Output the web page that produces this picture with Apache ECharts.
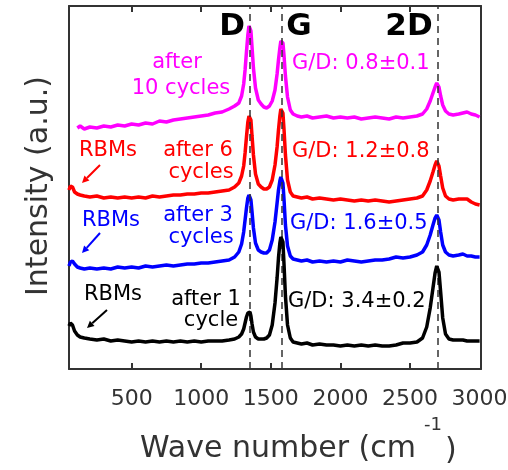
<!DOCTYPE html>
<html><head><meta charset="utf-8">
<script src="https://cdn.jsdelivr.net/npm/echarts@6/dist/echarts.min.js"></script>
<style>html,body{margin:0;padding:0;background:#fff}#c{width:508px;height:470px}</style>
</head><body><div id="c"></div>
<script>
// Raman shift (cm^-1)
const wavenumbers = [
  50,60,75,90,110,130,160,200,
  250,300,350,400,450,500,550,600,650,700,750,800,850,900,950,1000,1050,1100,1150,1200,
  1240,1270,1290,1305,1315,1325,1335,1343,1350,1357,1365,1375,1390,1410,1430,1450,1470,1490,1510,1530,1545,1555,1565,1572,1580,1587,1595,1605,1620,1640,1660,1690,1720,1760,1800,
  1850,1900,1950,2000,2050,2100,2150,2200,2250,2300,2350,2400,2450,2500,2550,
  2590,2620,2645,2665,2680,2692,2700,2708,2720,2735,2755,2780,2810,2850,2880,2910,2940,2970,3000
];
// Intensities (a.u., offset stacked)
const after10 = [
  null,null,null,null,241,243,240,242,
  241,243,242,244,243,245,244,246,245,248,247,249,250,251,252,253,254,256,257,260,
  263,266,273,285,299,317,334,343,344,338,322,301,281,269,265,262,261,263,268,279,295,309,321,328,330,326,313,293,272,259,255,253,252,253,251,
  252,253,251,252,251,252,250,251,252,251,250,252,251,252,253,
  255,260,268,276,282,286,286,282,273,264,258,255,254,255,256,257,255,254,252
];
const after6 = [
  179,183,182,177,175,174,173,172,
  173,171,172,171,172,171,172,171,173,172,173,174,174,175,175,176,176,177,178,179,
  182,186,193,203,216,232,247,253,254,249,233,214,195,185,182,180,180,182,189,204,222,239,253,260,262,256,239,214,189,177,173,172,171,172,170,
  171,170,169,170,169,168,169,168,169,168,167,168,169,170,171,
  173,179,188,197,204,208,207,203,193,181,173,170,169,170,170,170,167,165,164
];
const after3 = [
  103,107,108,105,102,101,100,101,
  100,101,100,102,101,102,101,103,102,103,104,103,104,105,105,106,106,107,108,109,
  112,117,125,137,149,161,171,174,174,169,157,141,126,119,117,116,116,119,129,147,166,179,188,192,192,186,169,144,123,113,110,109,108,109,107,
  108,107,108,107,109,108,107,108,109,109,110,112,111,112,114,
  117,124,134,144,151,154,153,149,137,124,117,114,113,114,115,113,113,112,112
];
const after1 = [
  43,46,44,38,34,32,31,30,
  29,30,28,29,28,27,28,27,28,27,28,27,28,27,28,27,28,28,28,29,
  30,32,35,40,46,52,56,58,57,53,45,37,32,30,30,30,31,34,44,66,91,111,126,132,134,127,104,73,44,31,27,26,25,26,24,
  25,24,24,23,24,23,24,23,24,23,23,24,26,26,27,
  31,42,61,81,96,103,103,97,77,51,35,30,29,29,29,28,28,28,28
];
const tickValues = [500,1000,1500,2000,2500,3000];
const peakPositions = [1350,1580,2700];
const seriesNames = ['after 10 cycles','after 6 cycles','after 3 cycles','after 1 cycle'];
const seriesColors = ['#ff00ff','#ff0000','#0000ff','#000000'];
const ratioLabels = ['G/D: 0.8±0.1','G/D: 1.2±0.8','G/D: 1.6±0.5','G/D: 3.4±0.2'];

const FONT = 'DejaVu Sans';
const allSeries = [after10, after6, after3, after1];

function pts(arr){
  return wavenumbers.map((w,i)=>[w, arr[i]]).filter(p=>p[1]!=null);
}
function txt(text, x, y, color, size, align, bold){
  return {type:'text', z:50, style:{text, x, y, fill:color, font:(bold?'bold ':'')+size+'px "'+FONT+'"', align:align||'center', verticalAlign:'middle'}};
}
function arrow(x1,y1,x2,y2,color){
  const dx=x2-x1, dy=y2-y1, L=Math.hypot(dx,dy), ux=dx/L, uy=dy/L;
  const hl=7, hw=3.5;
  const bx=x2-ux*hl, by=y2-uy*hl;
  return [
    {type:'line', z:50, shape:{x1,y1,x2:bx,y2:by}, style:{stroke:color, lineWidth:2}},
    {type:'polygon', z:50, shape:{points:[[x2,y2],[bx-uy*hw,by+ux*hw],[bx+uy*hw,by-ux*hw]]}, style:{fill:color}}
  ];
}

const chart = echarts.init(document.getElementById('c'), null, {renderer:'canvas'});
const axisCol = '#333';
const baseX = {
  type:'value', min:50, max:3010,
  axisLine:{show:true, onZero:false, lineStyle:{color:axisCol, width:2}},
  axisTick:{show:true, inside:true, length:6, customValues:tickValues.slice(0,5), lineStyle:{color:axisCol, width:2}},
  splitLine:{show:false}
};
const baseY = {
  type:'value', min:0, max:363,
  axisLine:{show:true, onZero:false, lineStyle:{color:axisCol, width:2}},
  axisTick:{show:false}, axisLabel:{show:false}, splitLine:{show:false}
};

const graphics = [
  txt('D', 232, 27, '#000', 31, 'center', true),
  txt('G', 299, 27, '#000', 31, 'center', true),
  txt('2D', 409, 27, '#000', 31, 'center', true),
  txt('after', 177, 63, seriesColors[0], 21),
  txt('10 cycles', 181, 89, seriesColors[0], 21),
  txt(ratioLabels[0], 292, 64, seriesColors[0], 21, 'left'),
  txt('RBMs', 108, 151, seriesColors[1], 21),
  txt('after 6', 198, 151, seriesColors[1], 21),
  txt('cycles', 201, 173, seriesColors[1], 21),
  txt(ratioLabels[1], 292, 152, seriesColors[1], 21, 'left'),
  txt('RBMs', 111, 221, seriesColors[2], 21),
  txt('after 3', 198, 216, seriesColors[2], 21),
  txt('cycles', 201, 238, seriesColors[2], 21),
  txt(ratioLabels[2], 290, 224, seriesColors[2], 21, 'left'),
  txt('RBMs', 113, 295, seriesColors[3], 21),
  txt('after 1', 206, 300, seriesColors[3], 21),
  txt('cycle', 211, 321, seriesColors[3], 21),
  txt(ratioLabels[3], 288, 302, seriesColors[3], 21, 'left'),
  ...arrow(100,165,82,183,seriesColors[1]),
  ...arrow(100,233,82,253,seriesColors[2]),
  ...arrow(107,310,87,328,seriesColors[3]),
  {type:'text', z:50, x:39, y:186, rotation:Math.PI/2, style:{text:'Intensity (a.u.)', x:0, y:0, fill:axisCol, font:'30px "'+FONT+'"', align:'center', verticalAlign:'middle'}},
  txt('Wave number (cm', 140, 449, axisCol, 30, 'left'),
  txt('-1', 424, 425, axisCol, 18, 'left'),
  txt(')', 445, 451, axisCol, 30, 'left')
];

chart.setOption({
  animation:false,
  backgroundColor:'#fff',
  grid:{left:69, right:27, top:6, bottom:101, containLabel:false, outerBoundsMode:'none'},
  xAxis:[
    Object.assign({}, baseX, {position:'bottom', axisLabel:{show:true, customValues:tickValues, fontSize:22, color:axisCol, fontFamily:FONT, margin:19, formatter:v=>String(v)}}),
    Object.assign({}, baseX, {position:'top', axisLabel:{show:false}})
  ],
  yAxis:[
    Object.assign({}, baseY, {position:'left'}),
    Object.assign({}, baseY, {position:'right'})
  ],
  series: allSeries.map((arr,k)=>({
    name: seriesNames[k], type:'line', symbol:'none', showSymbol:false,
    data: pts(arr), lineStyle:{color:seriesColors[k], width:3.5}, itemStyle:{color:seriesColors[k]},
    z: 2+k,
    markLine: k===3 ? {silent:true, symbol:'none', label:{show:false},
      lineStyle:{type:[7,5], color:axisCol, width:1.5},
      data: peakPositions.map(x=>({xAxis:x}))} : undefined
  })),
  graphic: graphics
});
</script></body></html>
